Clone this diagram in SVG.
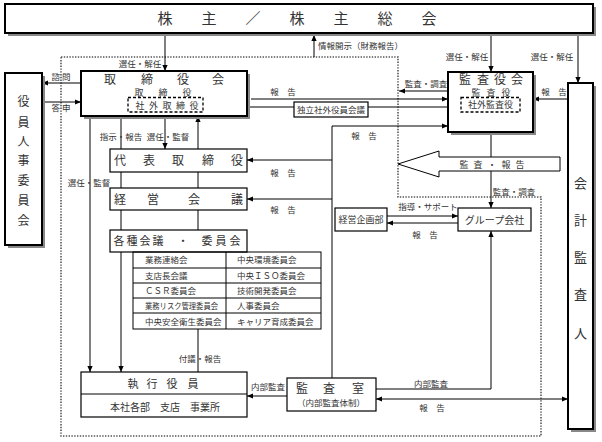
<svg xmlns="http://www.w3.org/2000/svg" width="602" height="442" viewBox="0 0 602 442">
<defs>
<marker id="ar" viewBox="0 0 6 6" refX="6" refY="3" markerWidth="6" markerHeight="6" markerUnits="userSpaceOnUse" orient="auto-start-reverse"><path d="M0,0.4 L6,3 L0,5.6 z" fill="#000"/></marker>
</defs>
<style>
text{font-family:"Noto Sans CJK JP","Noto Sans",sans-serif;fill:#333;text-anchor:middle}
.lb{font-size:8.5px}
.t12{font-size:12px}
.t11{font-size:11px}
.t10{font-size:10px}
.t9{font-size:9px}
.tk{fill:#fff;stroke:#000;stroke-width:2}
.bx{fill:#fff;stroke:#000;stroke-width:1.2}
.sh{fill:#888}
.ds{fill:none;stroke:#000;stroke-width:1.3;stroke-dasharray:3 2}
.ln{fill:none;stroke:#000;stroke-width:1}
.a{marker-end:url(#ar)}
.a2{marker-start:url(#ar);marker-end:url(#ar)}
.dot{fill:none;stroke:#555;stroke-width:1.6;stroke-dasharray:1.4 1.4}
.tb{fill:none;stroke:#000;stroke-width:1}
</style>

<path class="dot" d="M61,57 H398 V197 H541 V436 H61 Z"/>

<g id="connectors">
<path class="ln a" d="M165,33 V71"/>
<path class="ln a" d="M314,57 V35"/>
<path class="ln a" d="M491,33 V72"/>
<path class="ln a" d="M578,33 V83"/>
<path class="ln a" d="M81,83 H42"/>
<path class="ln a" d="M42,102 H81"/>
<path class="ln a" d="M251,99 H448"/>
<path class="ln a" d="M448,91 H399"/>
<path class="ln a" d="M568,99 H533"/>
<path class="ln" d="M203,107 H294"/>
<path class="ln" d="M368,107 H461"/>
<path class="ln a" d="M332,378 V126 H448"/>
<path class="ln a" d="M332,160 H247"/>
<path class="ln a" d="M332,199 H247"/>
<path class="ln a" d="M491,132 V208"/>
<path class="ln" d="M121,116 V149 M121,172 V188 M121,210 V230"/>
<path class="ln a" d="M121,252 V372"/>
<path class="ln a" d="M165,116 V149"/>
<path class="ln a" d="M198,149 V116"/>
<path class="ln" d="M198,172 V188 M198,210 V230 M198,329 V372"/>
<path class="ln a" d="M90,116 V372"/>
<path class="ln a" d="M387,216 H458"/>
<path class="ln a" d="M458,223 H387"/>
<path class="ln a" d="M376,389 H491 V231"/>
<path class="ln a2" d="M376,399 H568"/>
<path class="ln a" d="M287,396 H247"/>
<polygon points="398,164 439,151 439,157 560,157 560,171 439,171 439,177" fill="#fff" stroke="#000" stroke-width="1"/>
<text class="t9" x="0" y="167.5"><tspan x="464">監</tspan><tspan x="478">査</tspan><tspan x="492">・</tspan><tspan x="506">報</tspan><tspan x="520">告</tspan></text>
</g>

<g id="labels">
<text class="lb" x="140" y="67">選任・解任</text>
<text class="lb" x="318" y="49" style="text-anchor:start">情報開示（財務報告）</text>
<text class="lb" x="467" y="60">選任・解任</text>
<text class="lb" x="552" y="60">選任・解任</text>
<text class="lb" x="61" y="80">諮 問</text>
<text class="lb" x="61" y="111">答 申</text>
<text class="lb" x="283" y="95">報　告</text>
<text class="lb" x="426" y="87">監査・調査</text>
<text class="lb" x="554" y="95">報　告</text>
<text class="lb" x="364" y="139">報　告</text>
<text class="lb" x="121" y="140">指示・報告</text>
<text class="lb" x="168" y="140">選任・監督</text>
<text class="lb" x="283" y="176">報　告</text>
<text class="lb" x="283" y="213">報　告</text>
<text class="lb" x="89" y="186">選任・監督</text>
<text class="lb" x="514" y="195">監査・調査</text>
<text class="lb" x="428" y="210">指導・サポート</text>
<text class="lb" x="425" y="238">報　告</text>
<text class="lb" x="200" y="362">付議・報告</text>
<text class="lb" x="268" y="390">内部監査</text>
<text class="lb" x="431" y="387">内部監査</text>
<text class="lb" x="432" y="411">報　告</text>
</g>

<g id="shareholders">
<rect class="sh" x="8" y="7" width="588" height="29"/>
<rect class="tk" x="5" y="4" width="588" height="29"/>
<text style="font-size:15px" y="24"><tspan x="165">株</tspan><tspan x="209">主</tspan><tspan x="253">／</tspan><tspan x="297">株</tspan><tspan x="341">主</tspan><tspan x="385">総</tspan><tspan x="429">会</tspan></text>
</g>

<g id="board">
<rect class="sh" x="84" y="74" width="166" height="45"/>
<rect class="tk" x="81" y="71" width="166" height="45"/>
<text class="t12" y="84"><tspan x="110">取</tspan><tspan x="147">締</tspan><tspan x="183">役</tspan><tspan x="218">会</tspan></text>
<text class="t9" y="96"><tspan x="139">取</tspan><tspan x="163">締</tspan><tspan x="187">役</tspan></text>
<rect class="ds" x="128" y="97.5" width="75" height="14.5"/>
<text class="t9" y="108.5"><tspan x="140">社</tspan><tspan x="153.5">外</tspan><tspan x="167">取</tspan><tspan x="180.5">締</tspan><tspan x="194">役</tspan></text>
</g>

<g id="nomination">
<rect class="sh" x="8" y="76" width="37" height="172"/>
<rect class="tk" x="5" y="73" width="37" height="172"/>
<text class="t12"><tspan x="23.5" y="106">役</tspan><tspan x="23.5" y="127">員</tspan><tspan x="23.5" y="146">人</tspan><tspan x="23.5" y="165">事</tspan><tspan x="23.5" y="185">委</tspan><tspan x="23.5" y="205">員</tspan><tspan x="23.5" y="225">会</tspan></text>
</g>

<g id="auditors">
<rect class="sh" x="451" y="75" width="85" height="60"/>
<rect class="tk" x="448" y="72" width="85" height="60"/>
<text class="t12" y="83.5"><tspan x="465">監</tspan><tspan x="483">査</tspan><tspan x="500">役</tspan><tspan x="517">会</tspan></text>
<text class="t9" y="95.5"><tspan x="476">監</tspan><tspan x="491">査</tspan><tspan x="506">役</tspan></text>
<rect class="ds" x="461" y="97.5" width="59" height="14.5"/>
<text class="t9" x="490.5" y="108">社外監査役</text>
</g>

<g id="accountant">
<rect class="sh" x="571" y="86" width="25" height="346"/>
<rect class="tk" x="568" y="83" width="25" height="346"/>
<text style="font-size:13px"><tspan x="580.5" y="188">会</tspan><tspan x="580.5" y="225">計</tspan><tspan x="580.5" y="262">監</tspan><tspan x="580.5" y="299">査</tspan><tspan x="580.5" y="338">人</tspan></text>
</g>

<g id="independent">
<rect class="bx" x="294" y="102" width="74" height="15"/>
<text class="lb" x="331" y="113">独立社外役員会議</text>
</g>

<g id="president">
<rect class="bx" x="110" y="149" width="137" height="23"/>
<text class="t12" y="164.5"><tspan x="120">代</tspan><tspan x="149">表</tspan><tspan x="178">取</tspan><tspan x="208">締</tspan><tspan x="237">役</tspan></text>
</g>

<g id="mgmt">
<rect class="bx" x="110" y="188" width="137" height="22"/>
<text class="t12" y="203.5"><tspan x="120">経</tspan><tspan x="153">営</tspan><tspan x="194">会</tspan><tspan x="237">議</tspan></text>
</g>

<g id="committees">
<rect class="bx" x="110" y="230" width="137" height="22"/>
<text class="t11" y="245"><tspan x="119">各</tspan><tspan x="132">種</tspan><tspan x="145">会</tspan><tspan x="158">議</tspan><tspan x="183">・</tspan><tspan x="207">委</tspan><tspan x="221">員</tspan><tspan x="235">会</tspan></text>
<rect class="tb" x="133" y="252" width="188" height="77"/>
<path class="tb" d="M133,268 H321 M133,283 H321 M133,298 H321 M133,313 H321 M226,252 V329"/>
<g class="lb">
<text x="145" y="263" style="text-anchor:start">業務連絡会</text>
<text x="145" y="279" style="text-anchor:start">支店長会議</text>
<text x="145" y="294" style="text-anchor:start">ＣＳＲ委員会</text>
<text x="145" y="309" style="text-anchor:start" textLength="73" lengthAdjust="spacingAndGlyphs">業務リスク管理委員会</text>
<text x="145" y="324.5" style="text-anchor:start">中央安全衛生委員会</text>
<text x="237" y="263" style="text-anchor:start">中央環境委員会</text>
<text x="237" y="279" style="text-anchor:start">中央ＩＳＯ委員会</text>
<text x="237" y="294" style="text-anchor:start">技術開発委員会</text>
<text x="237" y="309" style="text-anchor:start">人事委員会</text>
<text x="237" y="324.5" style="text-anchor:start">キャリア育成委員会</text>
</g>
</g>

<g id="officers">
<rect class="bx" x="81" y="372" width="166" height="45"/>
<path class="ln" d="M81,394 H247"/>
<text class="t11" y="388"><tspan x="133">執</tspan><tspan x="152">行</tspan><tspan x="172">役</tspan><tspan x="193">員</tspan></text>
<text class="t10" x="165" y="410.5">本社各部　支店　事業所</text>
</g>

<g id="audit-office">
<rect class="bx" x="287" y="378" width="89" height="33"/>
<text class="t12" y="393"><tspan x="302">監</tspan><tspan x="329">査</tspan><tspan x="358">室</tspan></text>
<text class="lb" x="331" y="405.5">（内部監査体制）</text>
</g>

<g id="planning">
<rect class="bx" x="335" y="208" width="52" height="23"/>
<text class="t9" x="361" y="223">経営企画部</text>
</g>

<g id="group">
<rect class="bx" x="458" y="208" width="73" height="23"/>
<text class="t10" x="494.5" y="223.5">グループ会社</text>
</g>
</svg>
